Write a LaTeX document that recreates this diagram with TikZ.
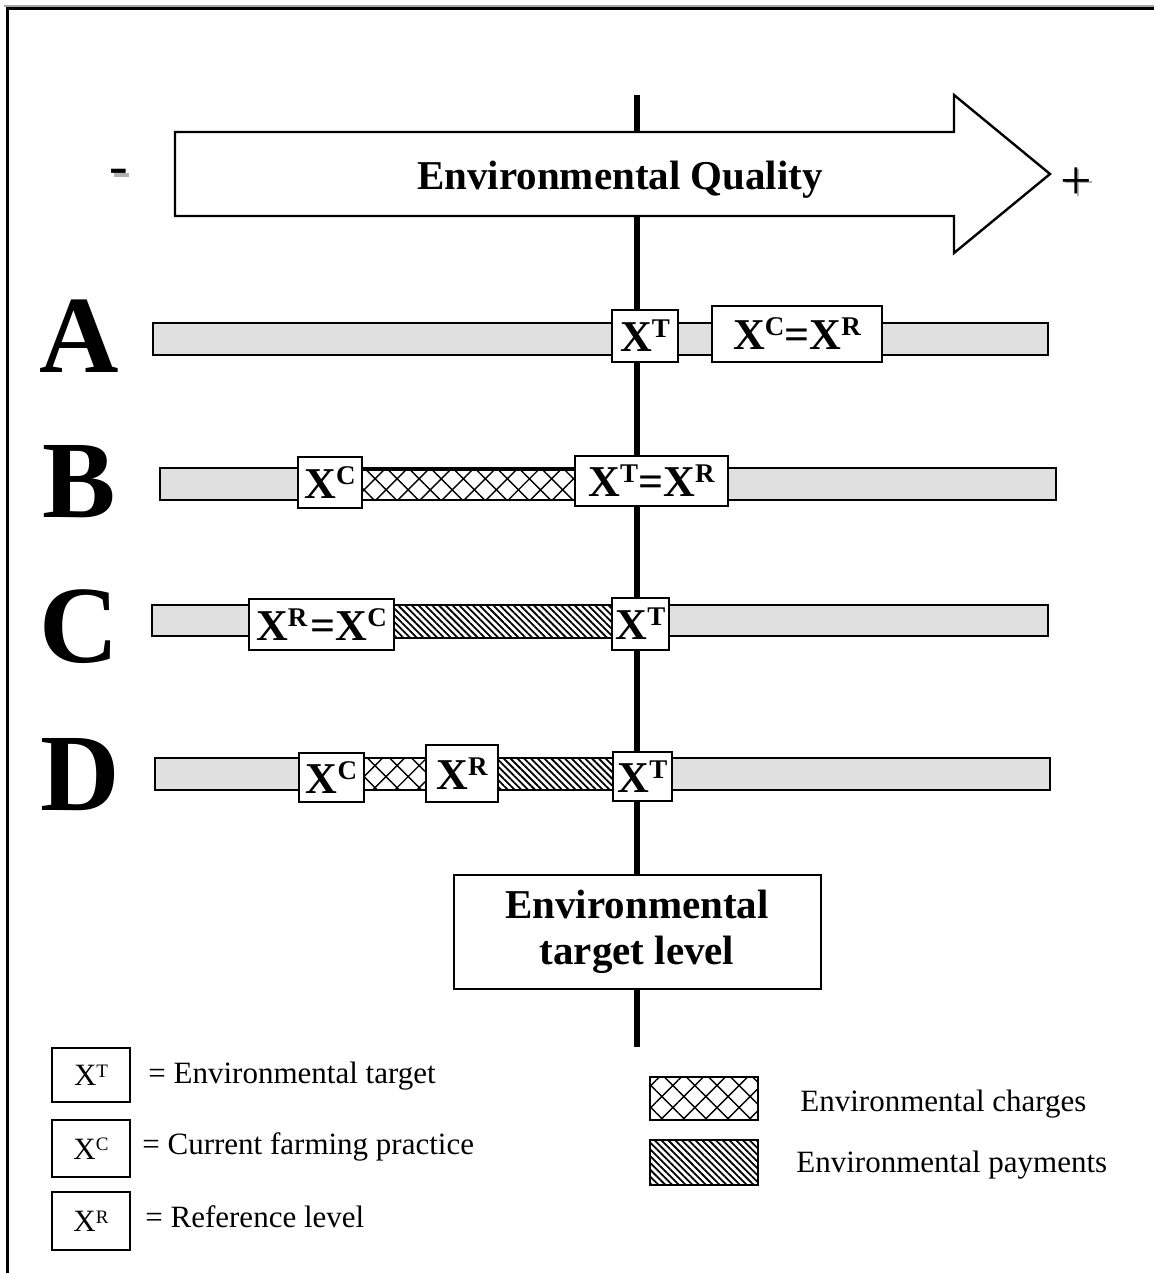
\documentclass[tikz,border=0pt]{standalone}
\usepackage{fontspec}
\setmainfont{Liberation Serif}
\usetikzlibrary{patterns.meta}
\newcommand{\bsup}[2]{#1\raisebox{7pt}{\fontsize{13.5}{14}\selectfont #2}}
\newcommand{\lsup}[2]{#1\raisebox{4.2pt}{\fontsize{9.5}{10}\selectfont #2}}
\begin{document}
\begin{tikzpicture}[x=0.5pt,y=-0.5pt,
  bar/.style={draw, line width=1pt, fill=black!12, inner sep=0pt},
  xbox/.style={draw, line width=1pt, fill=white, inner sep=0pt, font=\fontsize{22}{24}\bfseries\selectfont},
  lbox/.style={draw, line width=1pt, fill=white, inner sep=0pt, minimum width=39pt, font=\fontsize{15.5}{18}\selectfont},
  chg/.style={draw, line width=1pt, inner sep=0pt, preaction={fill=white}, pattern={Hatch[angle=45,distance=7.8pt,line width=0.7pt]}},
  pay/.style={draw, line width=1pt, inner sep=0pt, preaction={fill=white}, pattern={Lines[angle=-45,distance=2.4pt,line width=0.9pt]}},
  vline/.style={line width=3pt},
  rowlbl/.style={font=\fontsize{55}{60}\bfseries\selectfont, inner sep=0pt},
  ltext/.style={anchor=base west, inner sep=0pt, font=\fontsize{15.5}{18}\selectfont},
  pm/.style={anchor=base, inner sep=0pt, font=\fontsize{28}{30}\selectfont},
  shadow/.style={black!30, line width=1.2pt},
  bigtxt/.style={font=\fontsize{20.5}{23}\bfseries\selectfont}]
\useasboundingbox (0,0) rectangle (1154,1273);
% frame
\draw[black!35, line width=0.8pt] (4,6) -- (1154,6);
\draw[line width=1.5pt] (7,1273) -- (7,9) -- (1154,9);
% target level box and vertical line
\node[draw, line width=1pt, fill=white, minimum width=183.5pt, minimum height=57pt, align=center, bigtxt] (tgt) at (637,932) {Environmental\\target level};
\coordinate (vtop) at (637,95);
\coordinate (vbot) at (637,1047);
\draw[vline] (vtop) -- (vtop |- tgt.north);
\draw[vline] (vtop |- tgt.south) -- (vbot);
% big arrow
\draw[line width=1.2pt, fill=white, line join=miter] (175,132) -- (954,132) -- (954,95) -- (1050,174) -- (954,253) -- (954,216) -- (175,216) -- cycle;
\node[bigtxt, anchor=base, inner sep=0pt] (eq) at (620,190) {Environmental Quality};
% minus / plus with grey shadows
\fill[black!30] (114,173) rectangle (129,177);
\node[pm] (minus) at (119,185) {-};
\draw[shadow] (1065,182) -- (1092,182) (1078,169) -- (1078,196);
\node[pm] (plus) at (1076,199) {+};
% row labels
\node[rowlbl] (A) at (79,336) {A};
\node[rowlbl] (B) at (79,482) {B};
\node[rowlbl] (C) at (79,627) {C};
\node[rowlbl] (D) at (80,775) {D};
% row A
\node[bar, minimum width=447.5pt, minimum height=16pt] (barA) at (600.5,339) {};
\node[xbox, minimum width=33pt, minimum height=26pt] (aT) at (645,336) {\bsup{X}{T}};
\node[xbox, minimum width=85pt, minimum height=28pt] (aCR) at (797,334) {\bsup{X}{C}=\bsup{X}{R}};
% row B
\node[bar, minimum width=448pt, minimum height=16pt] (barB) at (608,484) {};
\node[chg, minimum width=106.5pt, minimum height=15pt] (bchg) at (468.5,485) {};
\node[xbox, minimum width=32pt, minimum height=25.5pt] (bC) at (330,482.5) {\bsup{X}{C}};
\node[xbox, minimum width=76.5pt, minimum height=25pt] (bTR) at (651.5,481) {\bsup{X}{T}=\bsup{X}{R}};
% row C
\node[bar, minimum width=448pt, minimum height=15.5pt] (barC) at (600,620.5) {};
\node[pay, minimum width=109pt, minimum height=16.5pt] (cpay) at (503,621.5) {};
\node[xbox, minimum width=72.5pt, minimum height=25.5pt] (cRC) at (321.5,624.5) {\bsup{X}{R}\hspace{1.5pt}=\bsup{X}{C}};
\node[xbox, minimum width=28.5pt, minimum height=26pt] (cT) at (640.5,624) {\bsup{X}{T}};
% row D
\node[bar, minimum width=447.5pt, minimum height=16pt] (barD) at (602.5,774) {};
\node[chg, minimum width=31pt, minimum height=16pt] (dchg) at (395,774) {};
\node[pay, minimum width=57.5pt, minimum height=16pt] (dpay) at (555.5,774) {};
\node[xbox, minimum width=32.5pt, minimum height=24.5pt] (dC) at (331.5,777.5) {\bsup{X}{C}};
\node[xbox, minimum width=36pt, minimum height=28.5pt] (dR) at (462,773.5) {\bsup{X}{R}};
\node[xbox, minimum width=29.5pt, minimum height=24.5pt] (dT) at (642.5,776.5) {\bsup{X}{T}};
% legend
\node[lbox, minimum height=27pt] (lgT) at (91,1075) {\lsup{X}{T}};
\node[lbox, minimum height=28.5pt] (lgC) at (91,1148.5) {\lsup{X}{C}};
\node[lbox, minimum height=29pt] (lgR) at (91,1221) {\lsup{X}{R}};
\node[ltext] (ltT) at (148,1083) {= Environmental target};
\node[ltext] (ltC) at (142,1154) {= Current farming practice};
\node[ltext] (ltR) at (145,1227) {= Reference level};
\node[chg, line width=1.3pt, minimum width=54pt, minimum height=21.5pt] (lchg) at (704,1098.5) {};
\node[pay, line width=1.3pt, minimum width=54pt, minimum height=22.5pt] (lpay) at (704,1162.5) {};
\node[ltext] (ltchg) at (800,1111) {Environmental charges};
\node[ltext] (ltpay) at (796,1172) {Environmental payments};
\end{tikzpicture}
\end{document}
